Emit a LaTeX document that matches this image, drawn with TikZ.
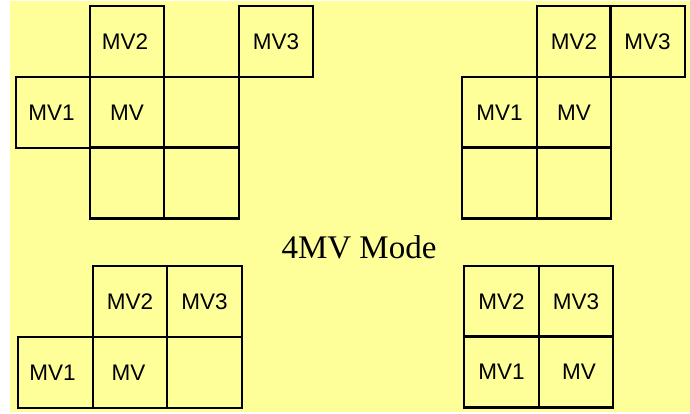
\documentclass[tikz,border=0pt]{standalone}
\usepackage{fontspec}
\setmainfont{Liberation Serif}
\newfontfamily\lblfont{Liberation Sans}
\definecolor{bgyellow}{RGB}{255,255,153}
\begin{document}
\begin{tikzpicture}[x=1pt,y=-1pt,
  cell/.style={draw=black, line width=2.4pt, minimum width=74.5pt, minimum height=71pt,
    inner sep=0pt, outer sep=0pt, font=\lblfont\fontsize{22.5}{26}\selectfont, text=black},
  title/.style={font=\fontsize{33}{38}\selectfont, inner sep=0pt, anchor=base}]
\useasboundingbox (0,0) rectangle (690,413);
\fill[bgyellow] (10,1) rectangle (690,412);
% top-left
\node[cell] (tlmvtwo) at (127,41.5) {MV2\hspace*{4pt}};
\node[cell] (tlmvthree) at (276,41.5) {MV3};
\node[cell] (tlmvone) at (53,112.5) {MV1\hspace*{3pt}};
\node[cell] (tlmv) at (127,112.5) {MV};
\node[cell] (tlea) at (201.5,112.5) {};
\node[cell] (tleb) at (127,183) {};
\node[cell] (tlec) at (201.5,183) {};
% top-right
\node[cell] (trmvtwo) at (574,41.5) {MV2};
\node[cell] (trmvthree) at (647.5,41.5) {MV3};
\node[cell] (trmvone) at (499.5,112.5) {MV1};
\node[cell] (trmv) at (574,112.5) {MV};
\node[cell] (trea) at (499.5,183) {};
\node[cell] (treb) at (574,183) {};
% title
\node[title] (ttl) at (359,258) {4MV Mode};
% bottom-left
\node[cell] (blmvtwo) at (130,301.5) {MV2};
\node[cell] (blmvthree) at (204.5,301.5) {MV3};
\node[cell] (blmvone) at (55.5,372.5) {MV1\hspace*{6pt}};
\node[cell] (blmv) at (130,372.5) {MV\hspace*{3pt}};
\node[cell] (blea) at (204.5,372.5) {};
% bottom-right
\node[cell] (brmvtwo) at (501.5,301.5) {MV2};
\node[cell] (brmvthree) at (576,301.5) {MV3};
\node[cell] (brmvone) at (501.5,372) {MV1};
\node[cell] (brmv) at (576,372) {\hspace*{6pt}MV};
\end{tikzpicture}
\end{document}
